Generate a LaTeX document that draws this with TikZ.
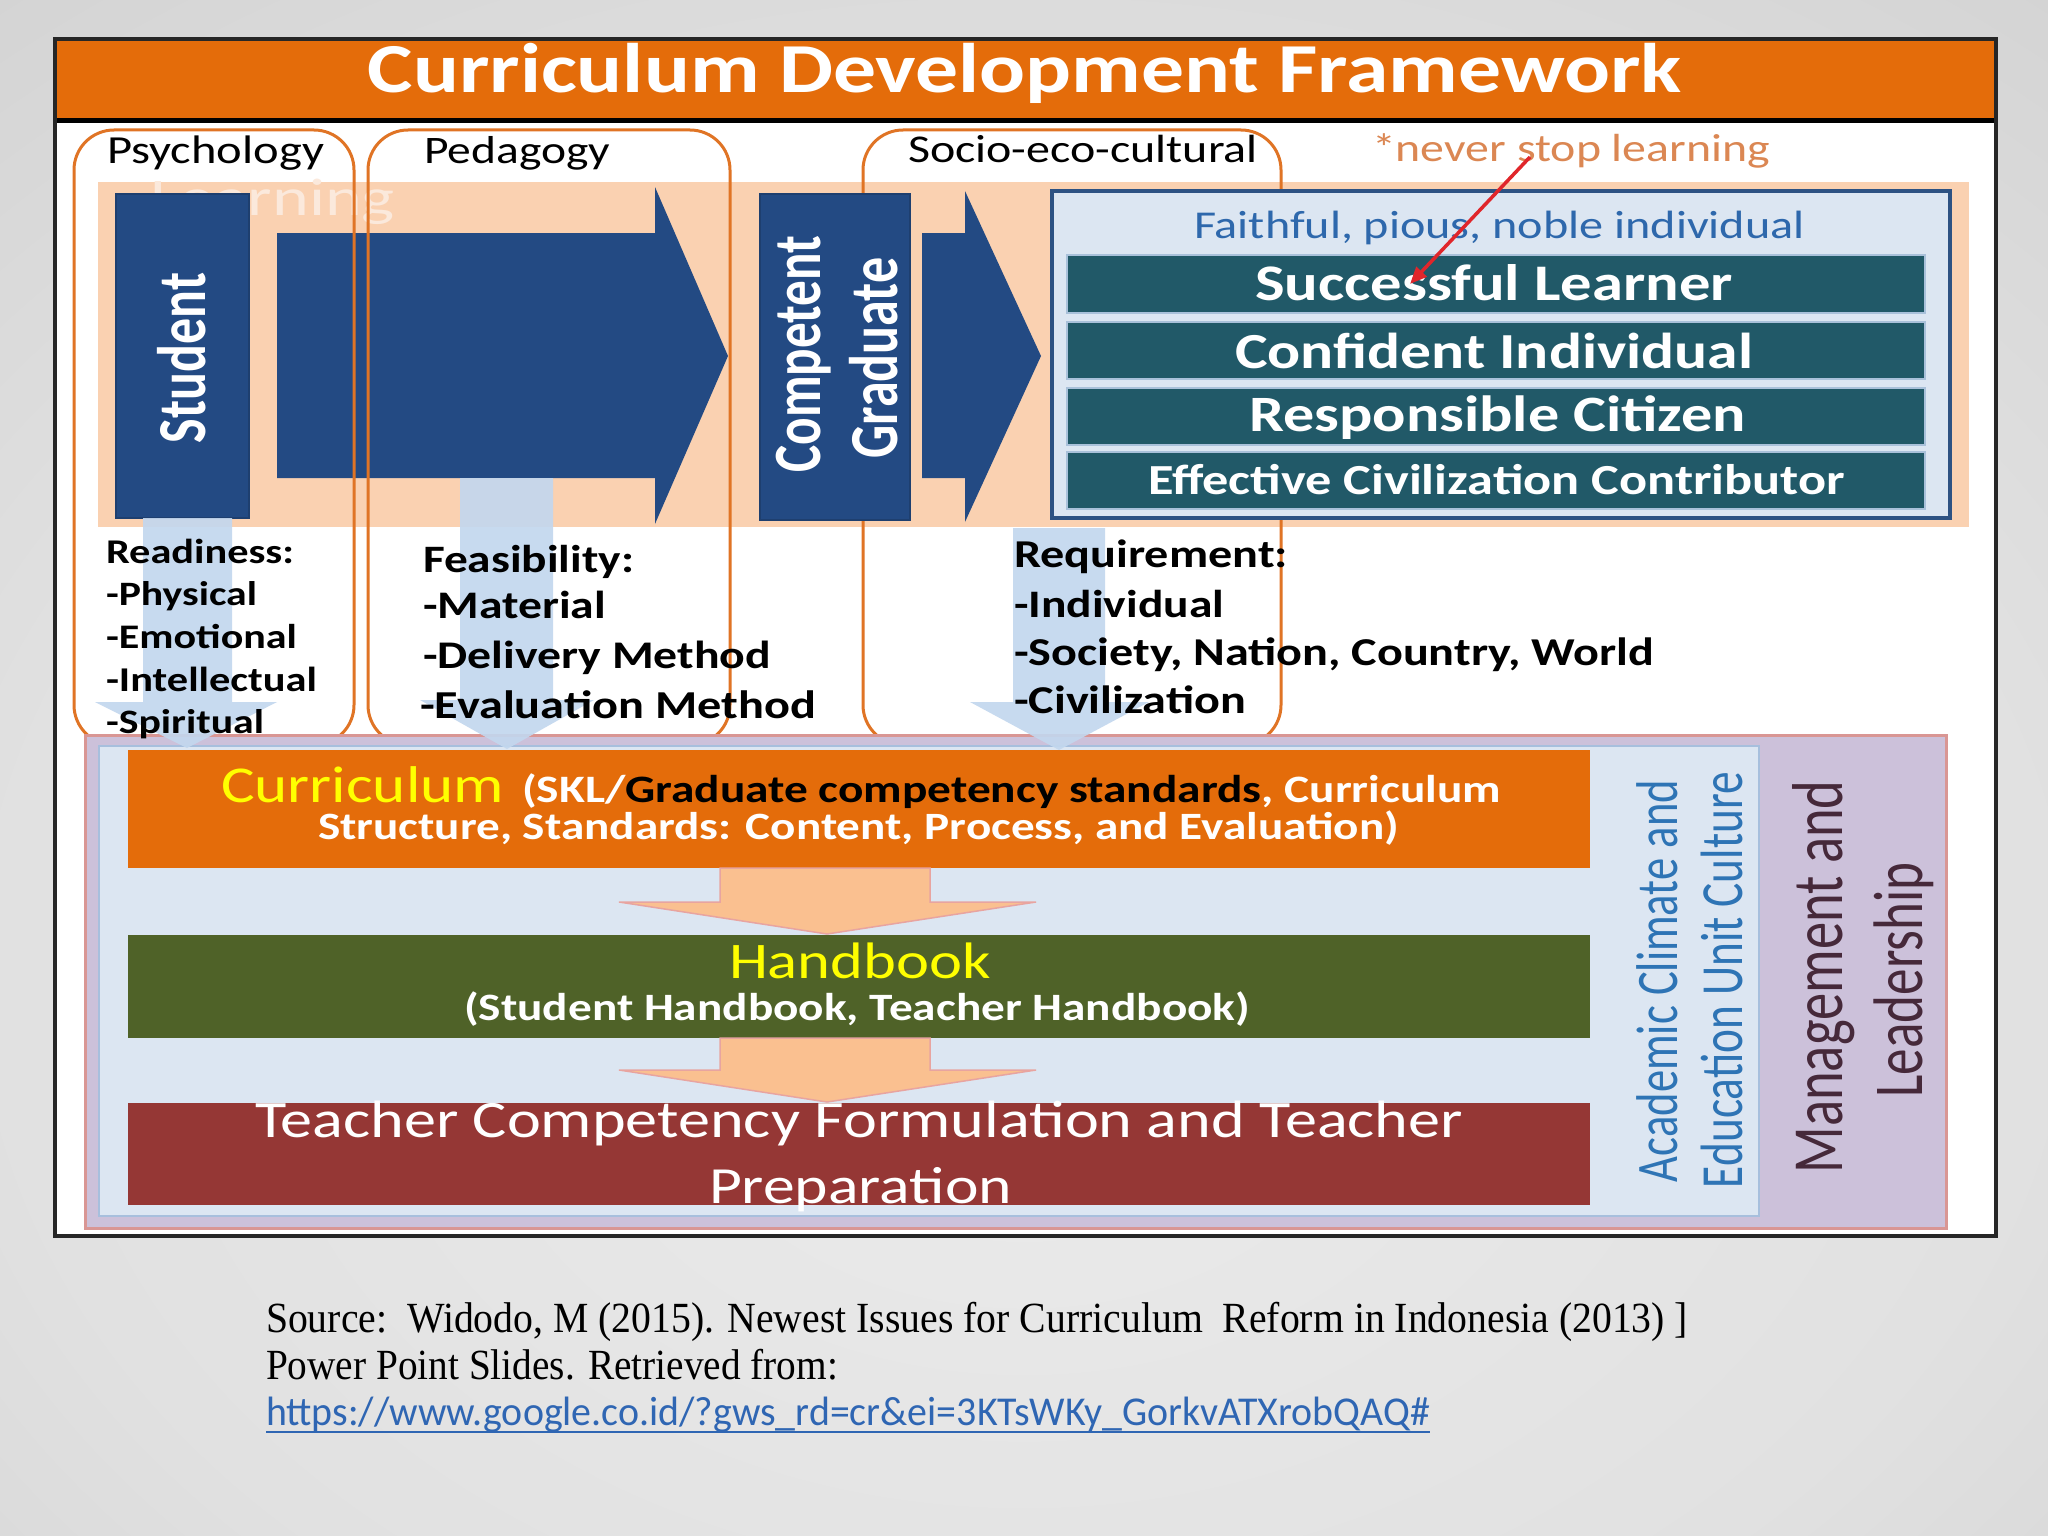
\documentclass[tikz,border=0pt]{standalone}
\usepackage{fontspec}
\setmainfont{Carlito}
\newfontfamily\serifface{Liberation Serif}
\usepackage{graphicx}
\usetikzlibrary{arrows.meta}

\definecolor{titleor}{HTML}{E46C0A}
\definecolor{peach}{HTML}{FAD1B1}
\definecolor{dblue}{HTML}{234A83}
\definecolor{outfill}{HTML}{DCE6F2}
\definecolor{outedge}{HTML}{2D5283}
\definecolor{tealbar}{HTML}{215968}
\definecolor{tealedge}{HTML}{A9C1DA}
\definecolor{orline}{HTML}{E07425}
\definecolor{ltblue}{HTML}{C3D7EE}
\definecolor{lav}{HTML}{CCC1DA}
\definecolor{pinkedge}{HTML}{D99694}
\definecolor{inblue}{HTML}{DCE6F2}
\definecolor{inedge}{HTML}{A7BFDD}
\definecolor{hbgreen}{HTML}{4F6228}
\definecolor{tcred}{HTML}{953735}
\definecolor{salmon}{HTML}{FAC090}
\definecolor{salmonedge}{HTML}{E8A4A0}
\definecolor{faithblue}{HTML}{2E68AC}
\definecolor{acadblue}{HTML}{2E74B5}
\definecolor{mgmtc}{HTML}{46293A}
\definecolor{neverc}{HTML}{DB8753}
\definecolor{arrred}{HTML}{E0262B}
\definecolor{urlblue}{HTML}{2F66B3}
\definecolor{ghostc}{HTML}{FBE9DC}
\definecolor{yel}{HTML}{FFFF00}
\definecolor{bgA}{HTML}{EBEBEB}
\definecolor{bgB}{HTML}{E1E1E1}
\definecolor{bgC}{HTML}{CACACA}
\definecolor{bgD}{HTML}{B8B8B8}

\pgfdeclareradialshading{slidebg}{\pgfpoint{0bp}{-10bp}}{%
  color(0bp)=(bgA); color(25bp)=(bgB); color(50bp)=(bgC); color(75bp)=(bgD)}

\newlength\mylen
\newcommand\xs{1.22}
\newcommand\vxs{1.32}
% horizontal text: target width, font switches, text (size from width and stretch)
\newcommand\hfit[3]{%
  \begingroup
  \settowidth\mylen{#2\fontsize{10pt}{12pt}\selectfont #3}%
  \pgfmathsetmacro\fsz{10*#1/(\xs*\mylen)}%
  #2\fontsize{\fsz pt}{\fsz pt}\selectfont\resizebox{#1pt}{\height}{#3}%
  \endgroup}
% horizontal text with given size
\newcommand\hfitS[4]{{#3\fontsize{#2pt}{#2pt}\selectfont\resizebox{#1pt}{\height}{#4}}}
% text to be rotated: target length, font switches, text
\newcommand\vfit[3]{%
  \begingroup
  \settowidth\mylen{#2\fontsize{10pt}{12pt}\selectfont #3}%
  \pgfmathsetmacro\fsz{10*#1/\mylen}%
  #2\fontsize{\fsz pt}{\fsz pt}\selectfont\scalebox{1}[\vxs]{#3}%
  \endgroup}
% rectangle node from corners
\newcommand\rectnode[6]{%
  \pgfmathsetmacro\rw{#4-#2}\pgfmathsetmacro\rh{#5-#3}%
  \pgfmathsetmacro\rcx{(#2+#4)/2}\pgfmathsetmacro\rcy{(#3+#5)/2}%
  \node[#6, minimum width=\rw pt, minimum height=\rh pt, inner sep=0pt] (#1) at (\rcx,\rcy) {};}

\tikzset{
  lbl/.style={inner sep=0pt, outer sep=0pt},
  obox/.style={draw=orline, line width=3pt, rounded corners=40pt},
  darkbox/.style={fill=dblue, draw=dblue!85!black, line width=1.5pt},
  tbar/.style={fill=tealbar, draw=tealedge, line width=1.5pt},
  bignum/.style={lbl, anchor=base west},
}

\begin{document}
\begin{tikzpicture}[x=1pt, y={(0pt,-1pt)}]
\useasboundingbox (0,0) rectangle (2048,1536);
\shade[shading=slidebg] (0,0) rectangle (2048,1536);

% frame and title
\rectnode{frame}{55}{39}{1996}{1236}{fill=white}
\rectnode{titlebar}{55}{39}{1996}{120}{fill=titleor}
\draw[line width=5pt] (titlebar.south west) -- (titlebar.south east);
\node[lbl, anchor=base, text=white] (title) at (1025,93) {\hfit{1314}{\bfseries}{Curriculum Development Framework}};

% peach band
\rectnode{band}{98}{182}{1969}{527}{fill=peach}
\node[lbl, anchor=base west, text=ghostc] (learn) at (150,215) {\hfitS{245}{53}{}{Learning}};

% dark arrows
\fill[dblue] (277,233) -- (655,233) -- (655,187) -- (728,356) -- (655,524) -- (655,478) -- (277,478) -- cycle;
\fill[dblue] (922,233) -- (965,233) -- (965,191) -- (1041,356) -- (965,522) -- (965,478) -- (922,478) -- cycle;

% orange rounded frames
\rectnode{psy}{74}{130}{354}{745}{obox}
\rectnode{ped}{368}{130}{730}{745}{obox}
\rectnode{soc}{863}{130}{1281}{745}{obox}

% student and graduate boxes
\rectnode{student}{116}{194}{249}{518}{darkbox}
\node[lbl, rotate=90, anchor=base, text=white] (studentt) at (205,358) {\vfit{170}{\bfseries}{Student}};
\rectnode{grad}{760}{194}{910}{520}{darkbox}
\node[lbl, rotate=90, anchor=base, text=white] (gradt1) at (820,354) {\vfit{237}{\bfseries}{Competent}};
\node[lbl, rotate=90, anchor=base, text=white] (gradt2) at (897,358) {\vfit{201}{\bfseries}{Graduate}};

% outcome box
\rectnode{outc}{1052}{191}{1950}{518}{fill=outfill, draw=outedge, line width=4pt}
\node[lbl, anchor=base west, text=faithblue] (faith) at (1194,238) {\hfit{611}{}{Faithful, pious, noble individual}};
\rectnode{bar1}{1067}{255}{1925}{313}{tbar}
\rectnode{bar2}{1067}{322}{1925}{379}{tbar}
\rectnode{bar3}{1067}{388}{1925}{445}{tbar}
\rectnode{bar4}{1067}{452}{1925}{509}{tbar}
\node[lbl, anchor=base west, text=white] (t1) at (1255,300) {\hfit{478}{\bfseries}{Successful Learner}};
\node[lbl, anchor=base west, text=white] (t2) at (1235,368) {\hfit{518}{\bfseries}{Confident Individual}};
\node[lbl, anchor=base west, text=white] (t3) at (1249,431) {\hfit{497}{\bfseries}{Responsible Citizen}};
\node[lbl, anchor=base west, text=white] (t4) at (1148,494) {\hfit{697}{\bfseries}{Effective Civilization Contributor}};

% top labels
\node[lbl, anchor=base west] (psyl) at (107,163) {\hfit{217}{}{Psychology}};
\node[lbl, anchor=base west] (pedl) at (424,163) {\hfit{186}{}{Pedagogy}};
\node[lbl, anchor=base west] (socl) at (908,163) {\hfit{350}{}{Socio-eco-cultural}};
\node[lbl, anchor=base west, text=neverc] (never) at (1372,162) {\hfit{398}{}{*never stop learning}};

% lower framework
\rectnode{mgmtbox}{85}{735}{1946}{1228}{fill=lav, draw=pinkedge, line width=3pt}
\rectnode{acadbox}{99}{746}{1759}{1216}{fill=inblue, draw=inedge, line width=2.5pt}
\rectnode{curbar}{128}{750}{1590}{868}{fill=titleor}
\rectnode{hbbar}{128}{935}{1590}{1038}{fill=hbgreen}
\rectnode{tcbar}{128}{1103}{1590}{1205}{fill=tcred}

\filldraw[fill=salmon, draw=salmonedge, line width=1.5pt] (720,868) -- (930,868) -- (930,902) -- (1036,902) -- (827,934) -- (619,902) -- (720,902) -- cycle;
\filldraw[fill=salmon, draw=salmonedge, line width=1.5pt] (720,1038) -- (930,1038) -- (930,1070) -- (1036,1070) -- (827,1102) -- (619,1070) -- (720,1070) -- cycle;

\node[lbl, anchor=base west, text=yel] (curt) at (221,802) {\hfit{283}{}{Curriculum}};
\node[lbl, anchor=base west] (curt2) at (522,802) {\hfit{979}{\bfseries}{\textcolor{white}{(SKL/}\textcolor{black}{Graduate competency standards}\textcolor{white}{, Curriculum}}};
\node[lbl, anchor=base west, text=white] (curt3) at (318,839) {\hfit{1081}{\bfseries}{Structure, Standards: Content, Process, and Evaluation)}};
\node[lbl, anchor=base west, text=yel] (hbt) at (729,978) {\hfit{262}{}{Handbook}};
\node[lbl, anchor=base west, text=white] (hbt2) at (464,1020) {\hfit{786}{\bfseries}{(Student Handbook, Teacher Handbook)}};
\node[lbl, anchor=base west, text=white] (tct) at (255,1137) {\hfit{1208}{}{Teacher Competency Formulation and Teacher}};
\node[lbl, anchor=base west, text=white] (tct2) at (709,1203) {\hfit{303}{}{Preparation}};

\node[lbl, rotate=90, anchor=base, text=acadblue] (acad1) at (1677,981) {\vfit{402}{}{Academic Climate and}};
\node[lbl, rotate=90, anchor=base, text=acadblue] (acad2) at (1742,980) {\vfit{416}{}{Education Unit Culture}};
\node[lbl, rotate=90, anchor=base, text=mgmtc] (mg1) at (1842,977) {\vfit{393}{}{Management and}};
\node[lbl, rotate=90, anchor=base, text=mgmtc] (mg2) at (1922,980) {\vfit{235}{}{Leadership}};

% light blue down arrows
\fill[ltblue, opacity=0.92] (143,518) -- (232,518) -- (232,702) -- (277,702) -- (187,748) -- (95,702) -- (143,702) -- cycle;
\fill[ltblue, opacity=0.92] (460,478) -- (553,478) -- (553,700) -- (594,700) -- (507,749) -- (420,700) -- (460,700) -- cycle;
\fill[ltblue, opacity=0.92] (1013,528) -- (1105,528) -- (1105,702) -- (1149,702) -- (1059,750) -- (970,702) -- (1013,702) -- cycle;

% lower-left text blocks
\node[bignum] (r0) at (106,563) {\hfit{188}{\bfseries}{Readiness:}};
\node[bignum] (r1) at (106,605) {\hfit{151}{\bfseries}{-Physical}};
\node[bignum] (r2) at (106,648) {\hfit{191}{\bfseries}{-Emotional}};
\node[bignum] (r3) at (106,691) {\hfit{211}{\bfseries}{-Intellectual}};
\node[bignum] (r4) at (106,733) {\hfit{158}{\bfseries}{-Spiritual}};

\node[bignum] (f0) at (423,572) {\hfit{211}{\bfseries}{Feasibility:}};
\node[bignum] (f1) at (423,618) {\hfit{183}{\bfseries}{-Material}};
\node[bignum] (f2) at (423,668) {\hfit{348}{\bfseries}{-Delivery Method}};
\node[bignum] (f3) at (420,718) {\hfit{396}{\bfseries}{-Evaluation Method}};

\node[bignum] (q0) at (1014,567) {\hfit{274}{\bfseries}{Requirement:}};
\node[bignum] (q1) at (1014,617) {\hfit{210}{\bfseries}{-Individual}};
\node[bignum] (q2) at (1014,665) {\hfit{640}{\bfseries}{-Society, Nation, Country, World}};
\node[bignum] (q3) at (1014,713) {\hfit{232}{\bfseries}{-Civilization}};

% red arrow
\coordinate (rs) at (1530,157);
\coordinate (re) at (1410,284);
\draw[arrred, line width=3.5pt, -{Triangle[length=17pt,width=14pt]}] (rs) -- (re);

% frame border
\draw[line width=4pt, black!85] (frame.north west) rectangle (frame.south east);

% footer
\node[bignum] (src1) at (266,1332) {\hfitS{1422}{43}{\serifface}{Source:\ \ Widodo, M (2015). Newest Issues for Curriculum\ \ Reform in Indonesia (2013) ]}};
\node[bignum] (src2) at (266,1379) {\hfitS{572}{43}{\serifface}{Power Point Slides. Retrieved from:}};
\node[bignum, text=urlblue] (url) at (266,1425) {\hfitS{1164}{41}{}{https://www.google.co.id/?gws\_rd=cr\&ei=3KTsWKy\_GorkvATXrobQAQ\#}};
\draw[urlblue, line width=2pt] (266,1432) -- (1430,1432);
\end{tikzpicture}
\end{document}
